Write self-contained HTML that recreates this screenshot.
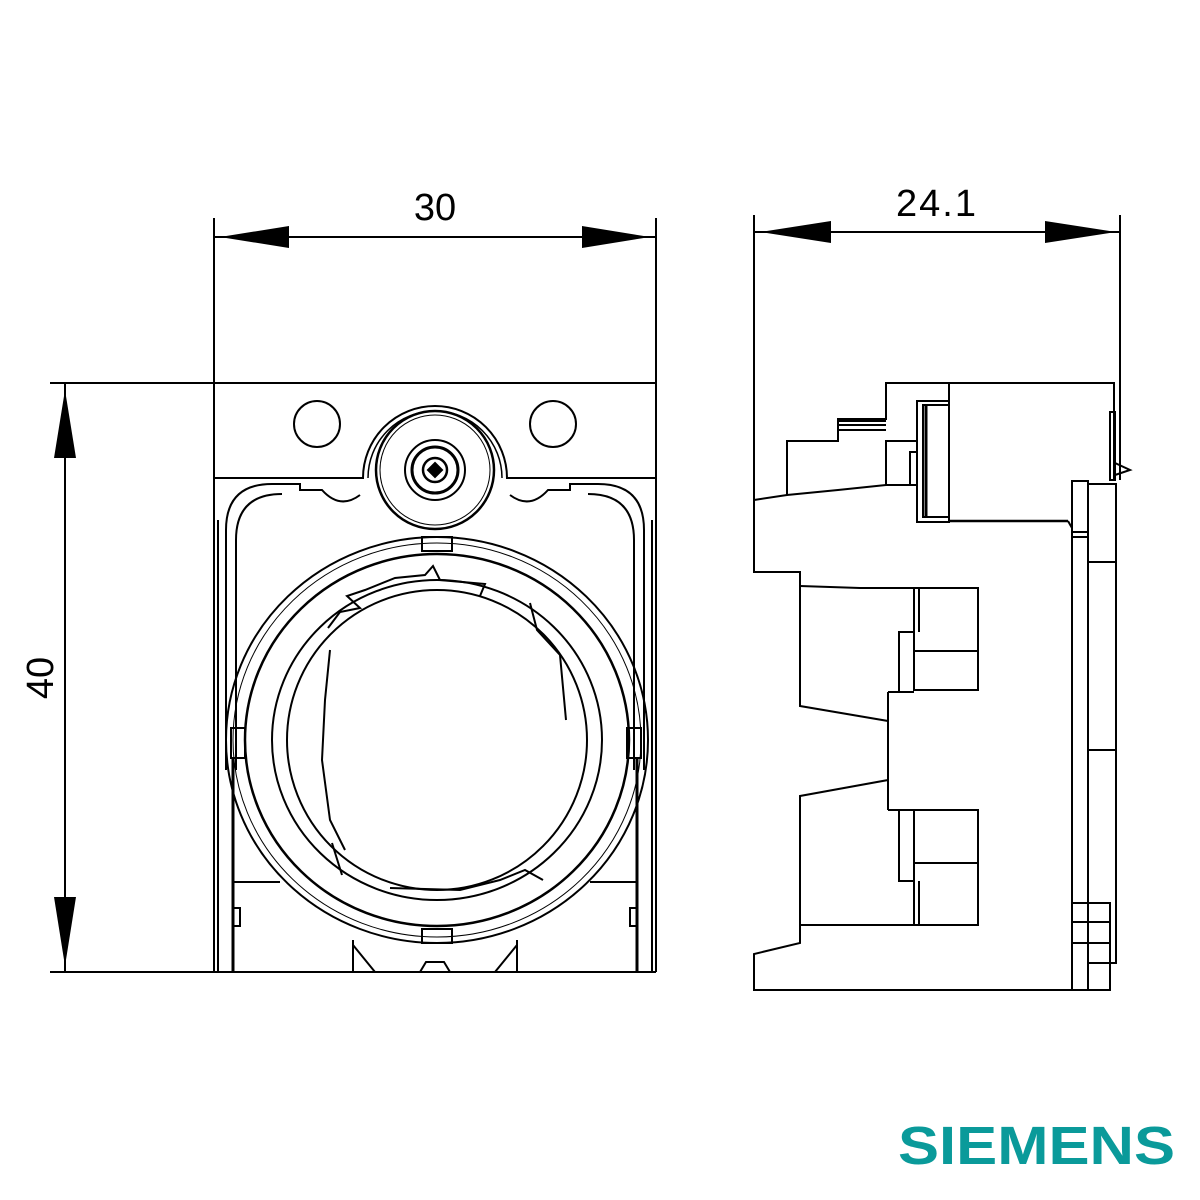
<!DOCTYPE html>
<html><head><meta charset="utf-8"><style>
html,body{margin:0;padding:0;background:#fff}
svg{display:block}
</style></head><body>
<svg width="1200" height="1200" viewBox="0 0 1200 1200" xmlns="http://www.w3.org/2000/svg">
<g fill="none" stroke="#000" stroke-width="2">
<!-- dimension 30 -->
<line x1="214" y1="218" x2="214" y2="972"/>
<line x1="656" y1="218" x2="656" y2="972"/>
<line x1="214" y1="237" x2="656" y2="237"/>
<!-- dimension 24.1 -->
<line x1="754" y1="215" x2="754" y2="500"/>
<line x1="1120" y1="215" x2="1120" y2="480"/>
<line x1="754" y1="232" x2="1120" y2="232"/>
<!-- dimension 40 -->
<line x1="50" y1="383" x2="214" y2="383"/>
<line x1="50" y1="972" x2="214" y2="972"/>
<line x1="65" y1="383" x2="65" y2="972"/>
</g>
<g fill="#000">
<polygon points="220,237 289,226 289,248"/>
<polygon points="650,237 582,226 582,248"/>
<polygon points="760,232 831,221 831,243"/>
<polygon points="1116,232 1045,221 1045,243"/>
<polygon points="65,390 54,458 76,458"/>
<polygon points="65,966 54,897 76,897"/>
</g>
<g font-family="Liberation Sans, sans-serif" font-size="38" fill="#000">
<text x="435" y="220" text-anchor="middle">30</text>
<text x="937" y="216" text-anchor="middle" letter-spacing="2">24.1</text>
<text transform="translate(53,678) rotate(-90)" text-anchor="middle">40</text>
</g>

<!-- FRONT VIEW -->
<g fill="none" stroke="#000" stroke-width="2">
<line x1="214" y1="383" x2="656" y2="383"/>
<line x1="214" y1="972" x2="656" y2="972"/>
<path d="M214 478 H363 A72 72 0 0 1 507 478 H656"/>
<path d="M368 478 A67 67 0 0 1 502 478" stroke-width="1.5"/>
<circle cx="317" cy="424" r="23"/>
<circle cx="553" cy="424" r="23"/>
<circle cx="435" cy="470" r="59" stroke-width="2.5"/>
<circle cx="435" cy="470" r="55" stroke-width="1"/>
<circle cx="435" cy="470" r="30"/>
<circle cx="435" cy="470" r="23" stroke-width="3"/>
<circle cx="435" cy="470" r="12" stroke-width="2.5"/>
<polygon points="435,463 442,470 435,477 428,470" fill="#000"/>
<!-- frame -->
<path d="M226 770 V530 Q226 484 272 484 H300 V490 H322 Q340 510 360 495"/>
<path d="M644 770 V530 Q644 484 598 484 H570 V490 H548 Q530 510 510 495"/>
<path d="M236 770 V540 Q236 494 282 494"/>
<path d="M634 770 V540 Q634 494 588 494"/>
<line x1="233" y1="757" x2="233" y2="972" stroke-width="3"/>
<line x1="637" y1="757" x2="637" y2="972" stroke-width="3"/>
<line x1="218" y1="520" x2="218" y2="972"/>
<line x1="652" y1="520" x2="652" y2="972"/>
<line x1="233" y1="882" x2="280" y2="882"/>
<line x1="590" y1="882" x2="637" y2="882"/>
<rect x="233" y="908" width="7" height="18"/>
<rect x="630" y="908" width="7" height="18"/>
<line x1="353" y1="940" x2="353" y2="972"/>
<line x1="517" y1="940" x2="517" y2="972"/>
<path d="M353 945 L375 972 M517 945 L495 972 M420 972 L426 962 H444 L450 972"/>
<!-- rings -->
<ellipse cx="437" cy="740" rx="211" ry="203"/>
<ellipse cx="437" cy="740" rx="204" ry="197" stroke-width="1"/>
<ellipse cx="437" cy="740" rx="192" ry="186" stroke-width="2.5"/>
<ellipse cx="437" cy="740" rx="165" ry="160"/>
<ellipse cx="437" cy="740" rx="150" ry="150"/>
<rect x="422" y="537" width="30" height="14"/>
<rect x="422" y="929" width="30" height="14"/>
<rect x="231" y="728" width="14" height="30"/>
<rect x="627" y="728" width="14" height="30"/>
<path d="M328 628 L340 612 L360 608 L347 596 L365 590 L395 578 L425 575 L433 566 L440 580 L485 584 L480 596"/>
<path d="M530 603 L537 630 L560 655 L566 720"/>
<path d="M330 650 L325 700 L322 760 L330 820 L345 850"/>
<path d="M332 843 L342 875"/>
<path d="M390 888 L460 890 L500 880 L525 870 L543 880"/>
</g>

<!-- SIDE VIEW -->
<g fill="none" stroke="#000" stroke-width="2">
<path d="M754 500 V572 H800 V706 L888 721 V780 L800 796 V943 L754 954 V990 H1072"/>
<path d="M754 500 L787 495 L838 490 L886 485 H917"/>
<path d="M787 495 V441 H838 V419 H886 V383 H1114 V480"/>
<line x1="838" y1="421" x2="886" y2="421"/>
<line x1="838" y1="425" x2="886" y2="425"/>
<line x1="838" y1="430" x2="886" y2="430"/>
<rect x="886" y="441" width="31" height="44"/>
<rect x="910" y="452" width="7" height="33"/>
<rect x="917" y="401" width="32" height="121"/>
<rect x="923" y="405" width="26" height="112"/>
<line x1="926" y1="405" x2="926" y2="517" stroke-width="3"/>
<line x1="949" y1="383" x2="949" y2="522"/>
<line x1="949" y1="521" x2="1068" y2="521" stroke-width="2.5"/>
<path d="M1068 521 L1072 528"/>
<rect x="1110" y="412" width="5" height="68"/>
<path d="M1115 463 L1130 470 L1115 475"/>
<rect x="1072" y="481" width="16" height="509"/>
<path d="M1072 532 H1088 M1072 537 H1088"/>
<rect x="1088" y="484" width="28" height="479"/>
<line x1="1088" y1="562" x2="1116" y2="562"/>
<line x1="1088" y1="750" x2="1116" y2="750"/>
<rect x="1072" y="903" width="38" height="87"/>
<line x1="1072" y1="922" x2="1110" y2="922"/>
<line x1="1072" y1="943" x2="1110" y2="943"/>
<!-- contact blocks -->
<path d="M800 586 L860 588 H978 V690 H914 V588"/>
<line x1="914" y1="651" x2="978" y2="651"/>
<path d="M914 632 H899 V692 H888 M899 692 H914"/>
<path d="M919 588 V632"/>
<path d="M888 810 H978 V925 H800 M914 810 V925"/>
<line x1="914" y1="863" x2="978" y2="863"/>
<path d="M914 881 H899 V810 M919 881 V925"/>
<line x1="888" y1="692" x2="888" y2="810"/>
</g>

<text x="1175" y="1164" font-family="Liberation Sans, sans-serif" font-weight="bold" font-size="54" fill="#0a9a9a" text-anchor="end" textLength="277" lengthAdjust="spacingAndGlyphs">SIEMENS</text>
</svg>
</body></html>
